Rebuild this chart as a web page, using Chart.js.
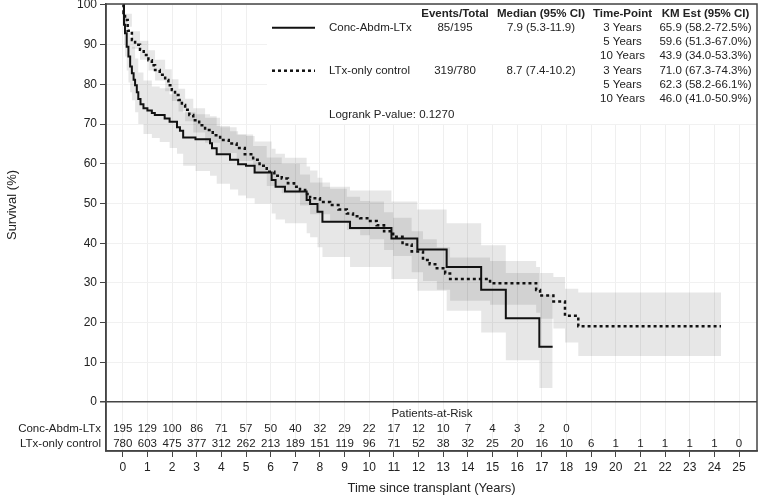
<!DOCTYPE html>
<html lang="en">
<head>
<meta charset="UTF-8">
<script src="https://cdn.jsdelivr.net/npm/chart.js"></script>
<title>Survival</title>
<style>
  html, body { margin: 0; padding: 0; background: #fff; }
</style>
</head>
<body>
<canvas id="myChart" width="760" height="497"></canvas>
<script>
// KM curves (time in years, survival %)
const concTimes = [0, 0.05, 0.09, 0.16, 0.23, 0.3, 0.37, 0.44, 0.5, 0.57, 0.63, 0.72, 0.84, 1.0, 1.18, 1.3, 1.7, 1.9, 2.2, 2.32, 2.45, 2.95, 3.54, 3.62, 3.81, 4.35, 4.68, 5.0, 5.35, 6.04, 6.2, 6.58, 7.46, 7.6, 7.9, 8.1, 9.22, 10.9, 11.95, 13.14, 14.54, 15.54, 16.9, 17.44];
const concSurv  = [100, 95, 92.9, 89.5, 87.0, 84.5, 82.8, 81.2, 79.8, 78.0, 76.3, 75.0, 74.0, 73.4, 72.8, 72.3, 71.4, 70.6, 69.2, 68.3, 66.6, 66.2, 65.2, 63.9, 62.4, 61.0, 59.9, 59.5, 57.8, 55.9, 54.2, 53.0, 50.9, 49.9, 47.9, 45.4, 43.8, 41.2, 38.4, 34.0, 28.3, 21.1, 13.9, 13.9];

const ltxTimes = [0, 0.03, 0.09, 0.2, 0.37, 0.5, 0.7, 0.85, 1.04, 1.18, 1.31, 1.5, 1.72, 1.85, 1.99, 2.12, 2.26, 2.4, 2.53, 2.7, 2.86, 3.1, 3.34, 3.65, 3.95, 4.3, 4.62, 4.95, 5.29, 5.55, 5.84, 6.15, 6.45, 6.7, 6.95, 7.19, 7.4, 7.6, 8.0, 8.41, 8.75, 9.09, 9.34, 9.63, 10.03, 10.3, 10.6, 10.97, 11.35, 11.72, 12.18, 12.45, 12.74, 13.08, 13.28, 14.9, 16.77, 16.93, 17.47, 17.94, 18.48, 24.27];
const ltxSurv  = [100, 98, 96.2, 93.5, 91.2, 90, 88.7, 87.4, 86.1, 84.8, 83.6, 82.4, 81.1, 79.8, 78.6, 77.3, 76.1, 74.8, 73.6, 72.3, 71.0, 69.7, 68.5, 67.2, 66.0, 65.1, 64.0, 62.4, 61.0, 59.5, 58.0, 57.0, 56.3, 55.1, 54.2, 53.4, 52.4, 51.3, 50.4, 49.6, 48.5, 47.5, 46.8, 46.3, 45.6, 44.5, 43.0, 41.6, 39.7, 37.9, 35.8, 34.7, 33.7, 32.4, 31.0, 29.9, 28.2, 26.8, 25.3, 21.7, 19.1, 19.1];

// 95% confidence bands
const concCiTimes = [0, 0.05, 0.09, 0.16, 0.23, 0.3, 0.37, 0.5, 0.63, 0.84, 1.18, 1.5, 1.9, 2.2, 2.45, 2.95, 3.54, 3.81, 4.35, 4.68, 5.0, 5.35, 6.04, 6.2, 6.58, 7.46, 7.6, 7.9, 8.1, 9.22, 10.9, 11.95, 13.14, 14.54, 15.54, 16.9, 17.44];
const concCiLow   = [100, 90, 87, 83.5, 80.5, 78, 76, 73, 70, 67.5, 66.5, 65.5, 64, 62.5, 59.5, 58.2, 57, 55, 53.5, 52, 51.3, 50, 47.5, 46, 45, 42.5, 41.5, 39, 36.5, 34, 31, 28, 23, 17.5, 10.5, 3.5, 3.5];
const concCiHigh  = [100, 99, 97.5, 95, 93, 91, 89.5, 86.5, 83, 81, 79.5, 79, 77.5, 76, 73, 72.5, 72, 69.5, 68.2, 67.4, 67, 65.6, 63.8, 62.5, 61.5, 59.3, 58.3, 56.5, 54.2, 53.3, 50.5, 48.5, 45, 39.5, 32.5, 27, 27];

const ltxCiTimes = [0, 0.09, 0.37, 0.7, 1.04, 1.31, 1.72, 1.99, 2.26, 2.53, 2.86, 3.34, 3.95, 4.62, 5.29, 5.84, 6.45, 7.19, 7.6, 8.41, 9.09, 9.63, 10.03, 10.6, 10.97, 11.72, 12.18, 12.74, 13.28, 14.9, 16.77, 16.93, 17.47, 17.94, 18.48, 24.27];
const ltxCiLow   = [100, 94.5, 89, 86.2, 83.5, 81, 78.3, 75.8, 73.2, 70.7, 67.9, 65.3, 62.7, 60.7, 57.5, 54.4, 52.6, 49.5, 47.3, 45.5, 43.3, 42, 41, 38.3, 36.8, 32.7, 30.5, 28.3, 25.5, 24.5, 22.5, 21, 18.5, 15, 11.6, 11.6];
const ltxCiHigh  = [100, 97.8, 93.4, 91, 88.6, 86.2, 83.8, 81.3, 78.9, 76.4, 74, 71.6, 69.2, 67.4, 64.5, 61.6, 60, 57.3, 55.3, 53.7, 51.7, 50.6, 50.5, 47.8, 46.4, 43, 41, 39, 36.4, 35.5, 34, 32.5, 31.5, 28.5, 27.6, 27.6];

// axes
const xTicks = [0, 1, 2, 3, 4, 5, 6, 7, 8, 9, 10, 11, 12, 13, 14, 15, 16, 17, 18, 19, 20, 21, 22, 23, 24, 25];
const yTicks = [0, 10, 20, 30, 40, 50, 60, 70, 80, 90, 100];

// patients at risk
const riskYears = xTicks;
const concRisk = [195, 129, 100, 86, 71, 57, 50, 40, 32, 29, 22, 17, 12, 10, 7, 4, 3, 2, 0];
const ltxRisk  = [780, 603, 475, 377, 312, 262, 213, 189, 151, 119, 96, 71, 52, 38, 32, 25, 20, 16, 10, 6, 1, 1, 1, 1, 1, 0];

// summary table
const groupNames = ['Conc-Abdm-LTx', 'LTx-only control'];
const eventsTotal = ['85/195', '319/780'];
const medians = ['7.9 (5.3-11.9)', '8.7 (7.4-10.2)'];
const timePoints = ['3 Years', '5 Years', '10 Years'];
const kmEst = [
  ['65.9 (58.2-72.5%)', '59.6 (51.3-67.0%)', '43.9 (34.0-53.3%)'],
  ['71.0 (67.3-74.3%)', '62.3 (58.2-66.1%)', '46.0 (41.0-50.9%)']
];
const pValueText = 'Logrank P-value: 0.1270';

const FONT = 'Arial, "Liberation Sans", sans-serif';

function pts(xs, ys) {
  return xs.map((x, i) => ({ x: x, y: ys[i] }));
}

function noPad(s) {
  s.paddingTop = 0; s.paddingBottom = 0; s.paddingLeft = 0; s.paddingRight = 0;
}

const extras = {
  id: 'extras',
  afterDraw(chart) {
    const ctx = chart.ctx;
    const a = chart.chartArea;
    const xs = chart.scales.x;
    ctx.save();

    // frame
    ctx.strokeStyle = '#444';
    ctx.lineWidth = 1.5;
    ctx.strokeRect(a.left, a.top, a.right - a.left, a.bottom - a.top);

    // summary box
    ctx.fillStyle = '#fff';
    ctx.fillRect(267, a.top + 1, a.right - 268, 119);
    ctx.fillStyle = '#222';
    ctx.textBaseline = 'middle';
    ctx.font = 'bold 11.5px ' + FONT;
    ctx.textAlign = 'center';
    ctx.fillText('Events/Total', 455, 14);
    ctx.fillText('Median (95% CI)', 541, 14);
    ctx.fillText('Time-Point', 622.5, 14);
    ctx.fillText('KM Est (95% CI)', 705.5, 14);

    ctx.font = '11.5px ' + FONT;
    const rowY = [27.7, 41.7, 55.7, 70.7, 85, 99];
    for (let g = 0; g < 2; g++) {
      const y0 = rowY[g * 3];
      // line sample
      ctx.strokeStyle = '#111';
      ctx.lineWidth = g === 0 ? 2 : 2.5;
      ctx.setLineDash(g === 0 ? [] : [3, 3]);
      ctx.beginPath();
      ctx.moveTo(272, y0);
      ctx.lineTo(315, y0);
      ctx.stroke();
      ctx.setLineDash([]);
      ctx.textAlign = 'left';
      ctx.fillText(groupNames[g], 329, y0);
      ctx.textAlign = 'center';
      ctx.fillText(eventsTotal[g], 455, y0);
      ctx.fillText(medians[g], 541, y0);
      for (let k = 0; k < 3; k++) {
        ctx.fillText(timePoints[k], 622.5, rowY[g * 3 + k]);
        ctx.fillText(kmEst[g][k], 705.5, rowY[g * 3 + k]);
      }
    }
    ctx.textAlign = 'left';
    ctx.fillText(pValueText, 329, 115);

    // patients at risk
    ctx.textAlign = 'center';
    ctx.fillText('Patients-at-Risk', 432, 414);
    concRisk.forEach((v, i) => ctx.fillText(String(v), xs.getPixelForValue(riskYears[i]), 429));
    ltxRisk.forEach((v, i) => ctx.fillText(String(v), xs.getPixelForValue(riskYears[i]), 443.5));
    ctx.textAlign = 'right';
    ctx.fillText(groupNames[0], 101, 429);
    ctx.fillText(groupNames[1], 101, 443.5);

    // axis titles
    ctx.font = '13px ' + FONT;
    ctx.textAlign = 'center';
    ctx.fillText('Time since transplant (Years)', (a.left + a.right) / 2, 488);
    ctx.translate(12, 205);
    ctx.rotate(-Math.PI / 2);
    ctx.fillText('Survival (%)', 0, 0);
    ctx.restore();
  }
};

const lineBase = { pointRadius: 0, stepped: true, fill: false };
const band = 'rgba(0,0,0,0.095)';

new Chart(document.getElementById('myChart'), {
  type: 'line',
  data: {
    datasets: [
      Object.assign({ label: groupNames[0], data: pts(concTimes, concSurv), borderColor: '#111', borderWidth: 2 }, lineBase),
      Object.assign({ label: groupNames[1], data: pts(ltxTimes, ltxSurv), borderColor: '#111', borderWidth: 2.5, borderDash: [3, 3] }, lineBase),
      { data: pts(concCiTimes, concCiHigh), pointRadius: 0, stepped: true, borderWidth: 0, borderColor: 'rgba(0,0,0,0)', backgroundColor: band, fill: '+1' },
      { data: pts(concCiTimes, concCiLow), pointRadius: 0, stepped: true, borderWidth: 0, borderColor: 'rgba(0,0,0,0)', fill: false },
      { data: pts(ltxCiTimes, ltxCiHigh), pointRadius: 0, stepped: true, borderWidth: 0, borderColor: 'rgba(0,0,0,0)', backgroundColor: band, fill: '+1' },
      { data: pts(ltxCiTimes, ltxCiLow), pointRadius: 0, stepped: true, borderWidth: 0, borderColor: 'rgba(0,0,0,0)', fill: false }
    ]
  },
  options: {
    responsive: false,
    animation: false,
    layout: { padding: { top: 4, right: 3, left: 0, bottom: 0 } },
    plugins: { legend: { display: false }, tooltip: { enabled: false } },
    scales: {
      x: {
        type: 'linear',
        min: -0.68,
        max: 25.73,
        afterBuildTicks: s => { s.ticks = xTicks.map(v => ({ value: v })); },
        afterFit: s => { s.height = 46; noPad(s); },
        ticks: { autoSkip: false, maxRotation: 0, padding: 3, color: '#222', font: { size: 12, family: FONT } },
        grid: { color: '#efefef', tickColor: '#444', tickLength: 6 },
        border: { color: '#444', width: 1.5 }
      },
      y: {
        min: -12.34,
        max: 100.25,
        afterBuildTicks: s => { s.ticks = yTicks.map(v => ({ value: v })); },
        afterFit: s => { s.width = 106; noPad(s); },
        ticks: { padding: 3, color: '#222', font: { size: 12, family: FONT } },
        grid: {
          color: c => (c.tick && c.tick.value === 0) ? '#444' : '#f1f1f1',
          lineWidth: c => (c.tick && c.tick.value === 0) ? 1.5 : 1,
          tickColor: '#444',
          tickLength: 6
        },
        border: { color: '#444', width: 1.5 }
      }
    }
  },
  plugins: [extras]
});
</script>
</body>
</html>
